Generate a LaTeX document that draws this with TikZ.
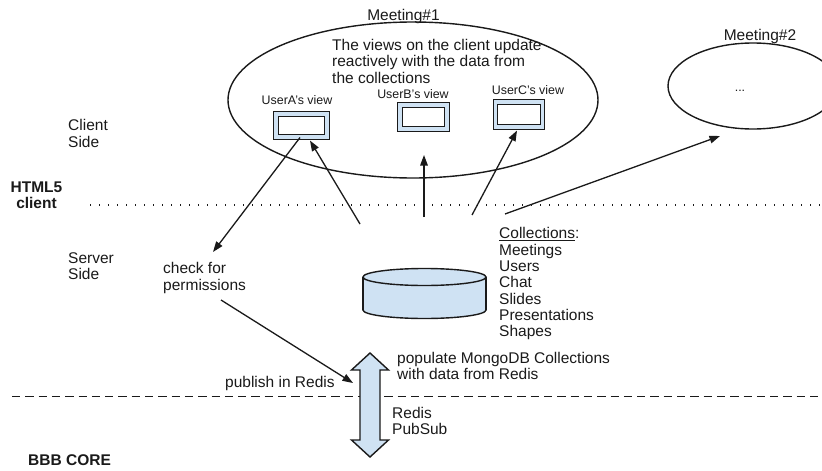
\documentclass[tikz,border=0pt]{standalone}
\usepackage{fontspec}
\setmainfont{Liberation Sans}
\usetikzlibrary{arrows.meta,shapes.geometric,calc}
\definecolor{paleblue}{HTML}{CFE2F3}
\definecolor{inkc}{HTML}{1A1A1A}
\begin{document}
\begin{tikzpicture}[x=1pt,y=-1pt,
  txt/.style={font=\fontsize{15.5}{16.3}\selectfont, inner sep=0pt, align=left, text=inkc},
  txtb/.style={txt, font=\fontsize{15.5}{16.3}\selectfont\bfseries},
  small/.style={font=\fontsize{12.4}{14}\selectfont, inner sep=0pt, text=inkc},
  meet/.style={ellipse, draw=inkc, line width=1.4pt, inner sep=0pt},
  view/.style={draw=inkc, line width=1.1pt, double=paleblue, double distance=3.4pt, fill=white, inner sep=0pt},
  arr/.style={draw=inkc, line width=1.3pt, -{Triangle[length=10.5pt,width=7.5pt]}},
  dotline/.style={draw=inkc, line width=1.3pt, dash pattern=on 1.3pt off 7.7pt},
  dashline/.style={draw=inkc, line width=1.3pt, dash pattern=on 8.3pt off 5pt},
  dbline/.style={draw=inkc, line width=1.4pt}
]
\useasboundingbox[fill=white] (0,0) rectangle (822,471);
\clip (0,0) rectangle (822,471);

% separators
\draw[dotline] (90,205) -- (822,205);
\draw[dashline] (12,396.5) -- (822,396.5);

% meetings
\node[meet, minimum width=370pt, minimum height=156pt] (m1) at (413,100) {};
\node[meet, minimum width=170pt, minimum height=86pt] (m2) at (753,86) {};
\node[txt, anchor=base] (m1lbl) at (403.5,20) {Meeting\#1};
\node[txt, anchor=base] (m2lbl) at (760,40) {Meeting\#2};
\node[small] (m2dots) at (740,91) {...};
\node[txt, anchor=north west, font=\fontsize{15.5}{16.5}\selectfont] (views) at (332,39)
  {The views on the client update\\reactively with the data from\\the collections};

% user views
\node[view, minimum width=51pt, minimum height=23pt] (va) at (301.5,125.5) {};
\node[view, minimum width=47pt, minimum height=24pt] (vb) at (423.5,117) {};
\node[view, minimum width=47pt, minimum height=25pt] (vc) at (519,114.5) {};
\node[small, anchor=base] (la) at (297,104.5) {UserA's view};
\node[small, anchor=base] (lb) at (413,98.5) {UserB's view};
\node[small, anchor=base] (lc) at (528,94.5) {UserC's view};

% side labels
\node[txt, anchor=north west] (client) at (68,119.5) {Client\\Side};
\node[txtb, anchor=north, align=center] (html) at (36.5,181.5) {HTML5\\client};
\node[txt, anchor=north west] (server) at (68,252.5) {Server\\Side};
\node[txt, anchor=north west] (cp) at (163,262.5) {check for\\permissions};
\node[txt, anchor=north west] (coll) at (499,227.5)
  {\underline{Collections}:\\Meetings\\Users\\Chat\\Slides\\Presentations\\Shapes};
\node[txt, anchor=north west] (pub) at (225,376.5) {publish in Redis};
\node[txt, anchor=north west, font=\fontsize{15.5}{15.5}\selectfont] (pop) at (397,352.5)
  {populate MongoDB Collections\\with data from Redis};
\node[txt, anchor=north west, font=\fontsize{15.5}{15.5}\selectfont] (redis) at (392,407.5) {Redis\\PubSub};
\node[txtb, anchor=north west] (core) at (28,454.5) {BBB CORE};

% database cylinder
\fill[paleblue] (363,277) rectangle (486,310);
\fill[paleblue] (424.5,310) ellipse [x radius=61.5, y radius=8.5];
\begin{scope}
  \clip (355,310) rectangle (495,325);
  \draw[dbline] (424.5,310) ellipse [x radius=61.5, y radius=8.5];
\end{scope}
\draw[dbline] (363,277) -- (363,310) (486,277) -- (486,310);
\draw[dbline, fill=paleblue] (424.5,277) ellipse [x radius=61.5, y radius=8.5];

% Redis PubSub double arrow
\draw[dbline, fill=paleblue, line join=miter]
  (370,353) -- (388.5,370) -- (380,370) -- (380,440) -- (388.5,440) -- (370,457)
  -- (351.5,440) -- (360,440) -- (360,370) -- (351.5,370) -- cycle;

% connectors
\coordinate (cpTip) at (213,252);
\coordinate (s1) at (360,224);
\coordinate (s2) at (424,217);
\coordinate (t2) at (424,155);
\coordinate (s3) at (472,215);
\coordinate (s4) at (505,214);
\coordinate (t4) at (720,136);
\coordinate (s5) at (221,300);
\coordinate (t5) at (353,383);

\draw[arr] ([xshift=-1.5pt]va.south) -- (cpTip);
\draw[arr] (s1) -- ([xshift=8.5pt,yshift=-3pt]va.south);
\draw[arr] (s2) -- (t2);
\draw[arr] (s3) -- ([xshift=-2pt,yshift=-3pt]vc.south);
\draw[arr] (s4) -- (t4);
\draw[arr] (s5) -- (t5);
\end{tikzpicture}
\end{document}
